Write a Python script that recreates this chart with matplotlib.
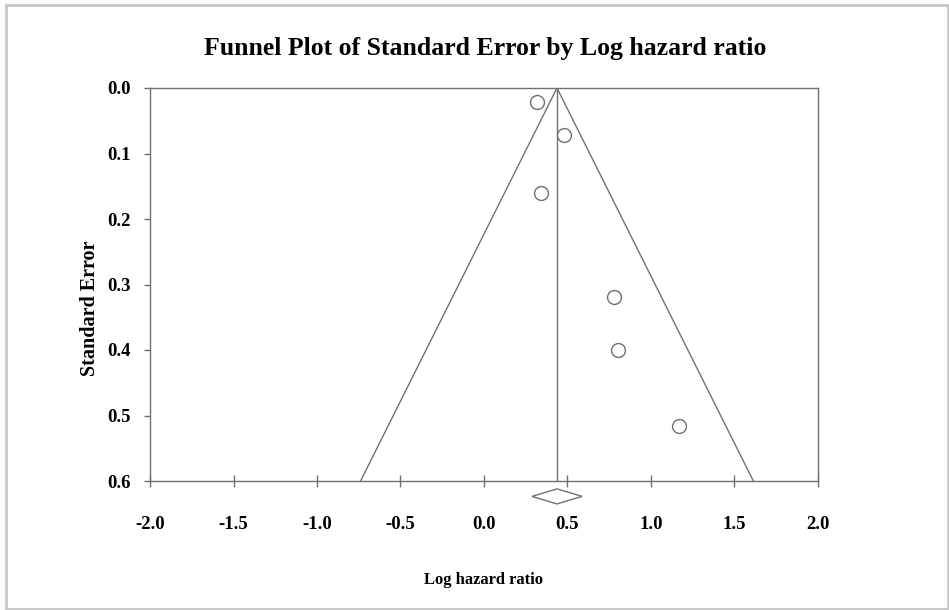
import matplotlib.pyplot as plt
from matplotlib.patches import Polygon, Rectangle

# study estimates
log_hr = [0.32, 0.48, 0.34, 0.78, 0.80, 1.17]
std_err = [0.021, 0.072, 0.160, 0.319, 0.400, 0.516]

pooled = 0.437
pooled_lo = 0.287
pooled_hi = 0.587

x_ticks = [-2.0, -1.5, -1.0, -0.5, 0.0, 0.5, 1.0, 1.5, 2.0]
y_ticks = [0.0, 0.1, 0.2, 0.3, 0.4, 0.5, 0.6]

FONT = 'Liberation Serif'
GREY = '#707070'


def main():
    fig = plt.figure(figsize=(9.49, 6.10), dpi=100)
    ax = fig.add_axes([150 / 949, 1 - 481 / 610, 668 / 949, 393 / 610])

    # funnel (95% limits) and pooled estimate line
    se_max = y_ticks[-1]
    ax.plot([pooled - 1.96 * se_max, pooled, pooled + 1.96 * se_max],
            [se_max, 0, se_max], color=GREY, lw=1.0)
    ax.plot([pooled, pooled], [0, se_max], color=GREY, lw=1.0)

    ax.plot(log_hr, std_err, 'o', ms=10, mfc='white', mec=GREY, mew=1.0)

    # pooled diamond below the axis
    dy = 0.0115
    yc = se_max + 0.0235
    diamond = Polygon([[pooled_lo, yc], [pooled, yc - dy],
                       [pooled_hi, yc], [pooled, yc + dy]],
                      closed=True, fill=False, edgecolor=GREY, lw=1.0,
                      clip_on=False)
    ax.add_patch(diamond)

    ax.set_xlim(x_ticks[0], x_ticks[-1])
    ax.set_ylim(se_max, 0)
    ax.set_xticks(x_ticks)
    ax.set_yticks(y_ticks)
    ax.set_xticklabels([f'{v:.1f}' for v in x_ticks])
    ax.set_yticklabels([f'{v:.1f}' for v in y_ticks])

    for sp in ax.spines.values():
        sp.set_color(GREY)
        sp.set_linewidth(1.0)

    ax.tick_params(axis='x', direction='inout', length=8, width=1.0,
                   color=GREY, pad=21)
    ax.tick_params(axis='y', direction='out', length=4, width=1.0,
                   color=GREY, pad=10)
    for lab in ax.get_xticklabels() + ax.get_yticklabels():
        lab.set_fontfamily(FONT)
        lab.set_fontweight('bold')
        lab.set_fontsize(13.5)

    ax.set_xlabel('Log hazard ratio', fontfamily=FONT, fontweight='bold',
                  fontsize=12, labelpad=28)
    ax.set_ylabel('Standard Error', fontfamily=FONT, fontweight='bold',
                  fontsize=14.5)
    ax.yaxis.set_label_coords(-0.075, 0.44)
    fig.text(485 / 949, 1 - 49 / 610,
             'Funnel Plot of Standard Error by Log hazard ratio',
             ha='center', va='center', fontfamily=FONT, fontweight='bold',
             fontsize=18.5)

    # light grey frame round the picture
    fig.patches.append(Rectangle((6 / 949, 1 / 610), 942 / 949, 604 / 610,
                                 transform=fig.transFigure, fill=False,
                                 edgecolor='#c8c8c8', lw=2))

    fig.savefig('out.png', dpi=100)


if __name__ == "__main__":
    main()
